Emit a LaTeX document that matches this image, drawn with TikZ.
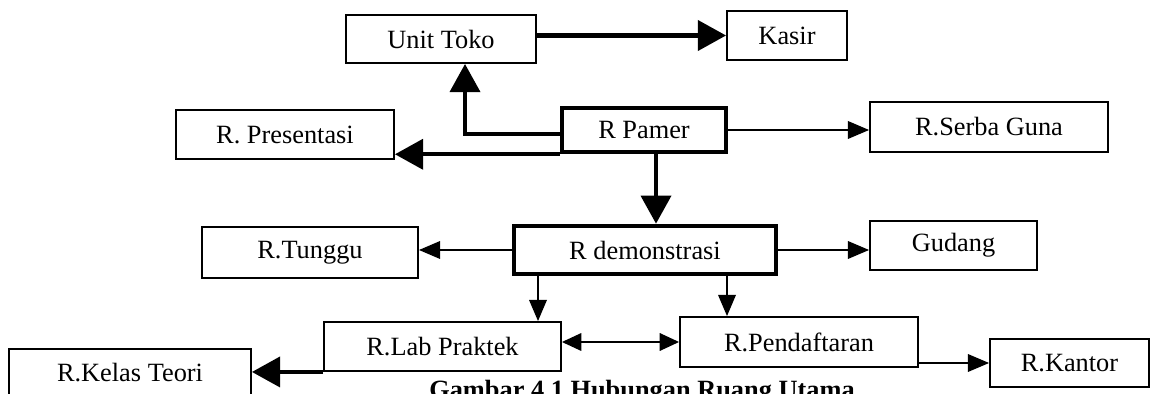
\documentclass[tikz,border=0pt]{standalone}
\usepackage{fontspec}
\setmainfont{Liberation Serif}
\usetikzlibrary{arrows.meta}
\begin{document}
\begin{tikzpicture}[x=0.02cm, y=-0.02cm,
  room/.style={draw, line width=1.1pt, minimum height=0.98cm, inner sep=0pt, font=\fontsize{15}{18}\selectfont},
  mainroom/.style={room, line width=2.6pt},
  thinarrow/.style={line width=0.9pt, -{Triangle[length=12pt,width=10pt]}},
  thinboth/.style={line width=0.9pt, {Triangle[length=11pt,width=10pt]}-{Triangle[length=11pt,width=10pt]}},
  thickarrow/.style={line width=2.4pt, -{Triangle[length=16pt,width=17pt]}}]
\useasboundingbox (0,0) rectangle (1151,394);
\clip (0,0) rectangle (1151,394);
% rooms
\node[room, minimum width=3.80cm, minimum height=0.96cm] (toko) at (441,39) {Unit Toko};
\node[room, minimum width=2.40cm] (kasir) at (787,35.5) {Kasir};
\node[room, minimum width=4.36cm] (presentasi) at (285,134.5) {R. Presentasi};
\node[mainroom, minimum width=3.28cm, minimum height=0.88cm] (pamer) at (644,130) {R Pamer};
\node[room, minimum width=4.76cm, minimum height=1.00cm] (serba) at (989,127) {R.Serba Guna};
\node[mainroom, minimum width=5.24cm, minimum height=0.96cm] (demo) at (645,250) {R demonstrasi};
\node[room, minimum width=4.32cm, minimum height=1.02cm] (tunggu) at (310,252.5) {R.Tunggu};
\node[room, minimum width=3.34cm] (gudang) at (953.5,245.5) {Gudang};
\node[room, minimum width=4.74cm] (lab) at (442.5,346.5) {R.Lab Praktek};
\node[room, minimum width=4.76cm, minimum height=1.00cm] (daftar) at (799,342) {R.Pendaftaran};
\node[room, minimum width=4.84cm, minimum height=0.96cm] (kelas) at (130,373) {R.Kelas Teori};
\node[room, minimum width=3.18cm, minimum height=0.96cm] (kantor) at (1069.5,363) {R.Kantor};
\node[anchor=base, font=\fontsize{15}{18}\selectfont\bfseries] (caption) at (642,398) {Gambar 4.1 Hubungan Ruang Utama};
% bends
\coordinate (b1) at (465,134);
\coordinate (c1) at (656,0);
\coordinate (c2) at (538,0);
\coordinate (c3) at (727,0);
% links
\draw[thickarrow] (toko.east |- kasir.west) -- (kasir.west);
\draw[thickarrow] (pamer.west |- b1) -- (b1) -- (b1 |- toko.south);
\draw[thickarrow] (pamer.south west) -- (presentasi.east |- pamer.south west);
\draw[thinarrow] (pamer.east) -- (pamer.east -| serba.west);
\draw[thickarrow] (pamer.south -| c1) -- (demo.north -| c1);
\draw[thinarrow] (demo.west) -- (tunggu.east |- demo.west);
\draw[thinarrow] (demo.east) -- (gudang.west |- demo.east);
\draw[thinarrow] (demo.south -| c2) -- (lab.north -| c2);
\draw[thinarrow] (demo.south -| c3) -- (daftar.north -| c3);
\draw[thinboth] (lab.east |- daftar.west) -- (daftar.west);
\draw[thickarrow] (lab.south west) -- (kelas.east |- lab.south west);
\draw[thinarrow] (daftar.east |- kantor.west) -- (kantor.west);
\end{tikzpicture}
\end{document}
